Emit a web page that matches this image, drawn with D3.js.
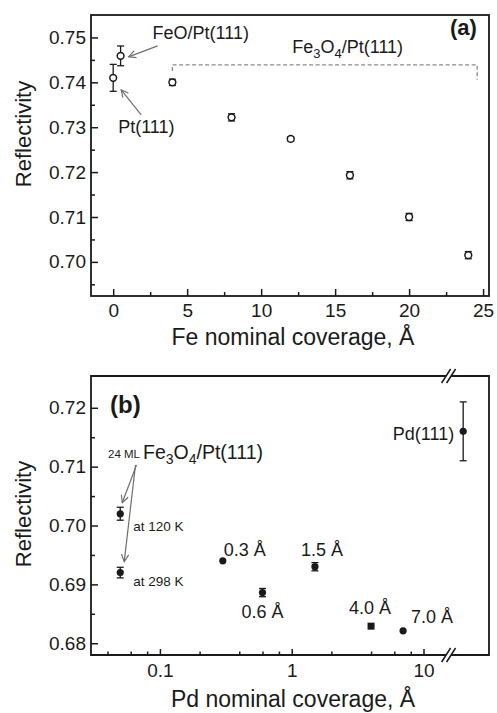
<!DOCTYPE html>
<html><head><meta charset="utf-8">
<script src="https://cdn.jsdelivr.net/npm/d3@7/dist/d3.min.js"></script>
<style>
html,body{margin:0;padding:0;background:#fff;}
svg{display:block;font-family:"Liberation Sans",Arial,sans-serif;}
</style></head>
<body>
<svg id="chart" width="497" height="713"></svg>
<script>
// ---------- Panel (a) data ----------
const feCoverage = [0, 0.5, 4, 8, 12, 16, 20, 24];
const feReflectivity = [0.741, 0.7459, 0.740, 0.7322, 0.7274, 0.7193, 0.710, 0.7015];
const feError = [0.003, 0.0022, 0.0007, 0.0008, 0.0005, 0.0008, 0.0008, 0.0008];
const aXTicks = [0, 5, 10, 15, 20, 25];
const aXMinor = [2.5, 7.5, 12.5, 17.5, 22.5];
const aYTicks = [0.70, 0.71, 0.72, 0.73, 0.74, 0.75];
const aYMinor = [0.695, 0.705, 0.715, 0.725, 0.735, 0.745];

// ---------- Panel (b) data ----------
const pdCoverage = [0.05, 0.05, 0.3, 0.6, 1.5, 4.0, 7.0, 20];
const pdReflectivity = [0.702, 0.692, 0.694, 0.6886, 0.693, 0.6829, 0.6821, 0.716];
const pdError = [0.0011, 0.0009, 0, 0.0007, 0.0007, 0, 0, 0.005];
const pdLabels = ["", "", "0.3 Å", "0.6 Å", "1.5 Å", "4.0 Å", "7.0 Å", "Pd(111)"];
const pdSquareCoverage = [4.0];
const bXTicks = [0.1, 1, 10];
const bXMinor = [0.04, 0.06, 0.08, 0.2, 0.4, 0.6, 0.8, 2, 4, 6, 8];
const bYTicks = [0.68, 0.69, 0.70, 0.71, 0.72];
const bYMinor = [0.685, 0.695, 0.705, 0.715];
const bBreak = 15.5;

const svg = d3.select("#chart");
const INK = "#1a1a1a", GRAY = "#6e6e6e";

// defs: arrowhead
svg.append("defs").append("marker")
  .attr("id","arr").attr("viewBox","0 0 10 10").attr("refX",9).attr("refY",5)
  .attr("markerWidth",9).attr("markerHeight",9).attr("orient","auto-start-reverse")
  .attr("markerUnits","userSpaceOnUse")
  .append("path").attr("d","M1,1 L9,5 L1,9").attr("fill","none").attr("stroke",GRAY).attr("stroke-width",1.3);

function styleAxis(g, fs){
  g.select(".domain").remove();
  g.selectAll(".tick line").attr("stroke",INK).attr("stroke-width",1.5);
  g.selectAll(".tick text").attr("fill",INK).attr("font-size",fs).attr("font-family","Liberation Sans, Arial, sans-serif");
}
function errorBars(g, xs, ys, errs, xS, yS){
  xs.forEach((x,i)=>{
    const e = errs[i]; if(!e) return;
    const cx = xS(x), y1 = yS(ys[i]+e), y2 = yS(ys[i]-e);
    g.append("line").attr("x1",cx).attr("x2",cx).attr("y1",y1).attr("y2",y2).attr("stroke",INK).attr("stroke-width",1.3);
    [y1,y2].forEach(yy=>g.append("line").attr("x1",cx-3.5).attr("x2",cx+3.5).attr("y1",yy).attr("y2",yy).attr("stroke",INK).attr("stroke-width",1.3));
  });
}
function arrow(g, x1,y1,x2,y2){
  g.append("line").attr("x1",x1).attr("y1",y1).attr("x2",x2).attr("y2",y2)
    .attr("stroke",GRAY).attr("stroke-width",1.2).attr("marker-end","url(#arr)");
}

// ================= Panel (a) =================
const xA = d3.scaleLinear().domain([-1.5, 25.4]).range([91, 489]);
const yA = d3.scaleLinear().domain([0.6924, 0.7550]).range([296, 15]);
const gA = svg.append("g");

gA.append("g").attr("transform","translate(0,296)")
  .call(d3.axisBottom(xA).tickValues(aXTicks).tickSizeInner(-7).tickSizeOuter(0).tickPadding(7.5).tickFormat(d3.format("d")))
  .call(g=>styleAxis(g,19));
gA.append("g").attr("transform","translate(0,296)")
  .call(d3.axisBottom(xA).tickValues(aXMinor).tickSizeInner(-4).tickSizeOuter(0).tickFormat(""))
  .call(g=>styleAxis(g,19));
gA.append("g").attr("transform","translate(91,0)")
  .call(d3.axisLeft(yA).tickValues(aYTicks).tickSizeInner(-7).tickSizeOuter(0).tickPadding(5).tickFormat(d3.format(".2f")))
  .call(g=>styleAxis(g,19));
gA.append("g").attr("transform","translate(91,0)")
  .call(d3.axisLeft(yA).tickValues(aYMinor).tickSizeInner(-4).tickSizeOuter(0).tickFormat(""))
  .call(g=>styleAxis(g,19));

gA.append("rect").attr("x",91).attr("y",15).attr("width",398).attr("height",281)
  .attr("fill","none").attr("stroke",INK).attr("stroke-width",1.8);

// dashed bracket for Fe3O4
gA.append("path")
  .attr("d", `M${xA(4)},${yA(0.7425)} V${yA(0.7439)} H${xA(24.6)} V${yA(0.7406)}`)
  .attr("fill","none").attr("stroke","#8a8a8a").attr("stroke-width",1.3).attr("stroke-dasharray","4,2.5");

errorBars(gA, feCoverage, feReflectivity, feError, xA, yA);
gA.selectAll("circle.pt").data(feCoverage).join("circle")
  .attr("cx",d=>xA(d)).attr("cy",(d,i)=>yA(feReflectivity[i])).attr("r",3.4)
  .attr("fill","#fff").attr("stroke",INK).attr("stroke-width",1.5);

// annotations (a)
const tA = (x,y,txt,fs,extra)=>{const t=gA.append("text").attr("x",x).attr("y",y).attr("fill",INK).attr("font-size",fs).text(txt); if(extra) extra(t); return t;};
const pFeO = [xA(feCoverage[1]), yA(feReflectivity[1])];
const pPt = [xA(feCoverage[0]), yA(feReflectivity[0])];
tA(pFeO[0]+32, pFeO[1]-17, "FeO/Pt(111)", 18);
arrow(gA, pFeO[0]+37, pFeO[1]-10, pFeO[0]+8, pFeO[1]+1);
tA(pPt[0]+5, pPt[1]+55, "Pt(111)", 18);
arrow(gA, pPt[0]+28, pPt[1]+37, pPt[0]+8, pPt[1]+12);
const fe3 = gA.append("text").attr("x",xA(12.1)).attr("y",53).attr("fill",INK).attr("font-size",18);
fe3.append("tspan").text("Fe");
fe3.append("tspan").attr("font-size",13).attr("dy",5).text("3");
fe3.append("tspan").attr("dy",-5).text("O");
fe3.append("tspan").attr("font-size",13).attr("dy",5).text("4");
fe3.append("tspan").attr("dy",-5).text("/Pt(111)");
tA(450, 35, "(a)", 22, t=>t.attr("font-weight","bold"));

gA.append("text").attr("x",293).attr("y",345).attr("text-anchor","middle").attr("font-size",23).attr("fill",INK).text("Fe nominal coverage, Å");
gA.append("text").attr("transform","translate(31,134) rotate(-90)").attr("text-anchor","middle").attr("font-size",22).attr("fill",INK).text("Reflectivity");

// ================= Panel (b) =================
const xB = d3.scaleLog().domain([0.03, 31.4]).range([91, 489]);
const yB = d3.scaleLinear().domain([0.678, 0.7254]).range([655, 376]);
const gB = svg.append("g");

gB.append("g").attr("transform","translate(0,655)")
  .call(d3.axisBottom(xB).tickValues(bXTicks).tickSizeInner(-6).tickSizeOuter(0).tickPadding(9).tickFormat(d=>String(d)))
  .call(g=>styleAxis(g,19));
gB.append("g").attr("transform","translate(0,655)")
  .call(d3.axisBottom(xB).tickValues(bXMinor).tickSizeInner(-3.5).tickSizeOuter(0).tickFormat(""))
  .call(g=>styleAxis(g,19));
gB.append("g").attr("transform","translate(91,0)")
  .call(d3.axisLeft(yB).tickValues(bYTicks).tickSizeInner(-7).tickSizeOuter(0).tickPadding(5).tickFormat(d3.format(".2f")))
  .call(g=>styleAxis(g,19));
gB.append("g").attr("transform","translate(91,0)")
  .call(d3.axisLeft(yB).tickValues(bYMinor).tickSizeInner(-4).tickSizeOuter(0).tickFormat(""))
  .call(g=>styleAxis(g,19));

// frame with axis breaks
const bx = xB(bBreak), L = 91, R = 489, T = 376, B = 655;
gB.append("path")
  .attr("d", `M${bx-2.5},${T} H${L} V${B} H${bx-2.5} M${bx+2.5},${B} H${R} V${T} H${bx+2.5}`)
  .attr("fill","none").attr("stroke",INK).attr("stroke-width",1.8);
[T,B].forEach(yy=>{
  [bx-2.5, bx+2.5].forEach(cx=>{
    gB.append("line").attr("x1",cx-4.5).attr("y1",yy+7).attr("x2",cx+4.5).attr("y2",yy-7)
      .attr("stroke",INK).attr("stroke-width",1.5);
  });
});

errorBars(gB, pdCoverage, pdReflectivity, pdError, xB, yB);
pdCoverage.forEach((x,i)=>{
  const cx = xB(x), cy = yB(pdReflectivity[i]);
  if (pdSquareCoverage.includes(x))
    gB.append("rect").attr("x",cx-3.5).attr("y",cy-3.5).attr("width",7).attr("height",7).attr("fill",INK);
  else
    gB.append("circle").attr("cx",cx).attr("cy",cy).attr("r",3.6).attr("fill",INK);
});

// point labels (b)
const labOff = {"0.3 Å":[1,-5,"start"], "0.6 Å":[0,25,"middle"], "1.5 Å":[7,-11,"middle"], "4.0 Å":[-1,-12,"middle"], "7.0 Å":[8,-8,"start"], "Pd(111)":[-9,9,"end"]};
pdLabels.forEach((lab,i)=>{
  if(!lab) return;
  const o = labOff[lab];
  gB.append("text").attr("x",xB(pdCoverage[i])+o[0]).attr("y",yB(pdReflectivity[i])+o[1])
    .attr("text-anchor",o[2]).attr("font-size",18).attr("fill",INK).text(lab);
});

// Fe3O4 reference annotation (b)
const p120 = [xB(pdCoverage[0]), yB(pdReflectivity[0])];
const p298 = [xB(pdCoverage[1]), yB(pdReflectivity[1])];
gB.append("text").attr("x",108).attr("y",458).attr("font-size",11.5).attr("fill",INK).text("24 ML");
const fe3b = gB.append("text").attr("x",143).attr("y",459).attr("fill",INK).attr("font-size",19.5);
fe3b.append("tspan").text("Fe");
fe3b.append("tspan").attr("font-size",14).attr("dy",5).text("3");
fe3b.append("tspan").attr("dy",-5).text("O");
fe3b.append("tspan").attr("font-size",14).attr("dy",5).text("4");
fe3b.append("tspan").attr("dy",-5).text("/Pt(111)");
gB.append("text").attr("x",p120[0]+13).attr("y",p120[1]+17).attr("font-size",13.5).attr("fill",INK).text("at 120 K");
gB.append("text").attr("x",p298[0]+13).attr("y",p298[1]+13).attr("font-size",13.5).attr("fill",INK).text("at 298 K");
arrow(gB, 136.5, 465, p120[0]+2, p120[1]-11);
arrow(gB, 135.5, 465, p298[0]+4, p298[1]-11);

tA(0,0,"",1).remove();
gB.append("text").attr("x",110).attr("y",413).attr("font-size",24).attr("font-weight","bold").attr("fill",INK).text("(b)");

gB.append("text").attr("x",293).attr("y",707).attr("text-anchor","middle").attr("font-size",23).attr("fill",INK).text("Pd nominal coverage, Å");
gB.append("text").attr("transform","translate(31,514) rotate(-90)").attr("text-anchor","middle").attr("font-size",22).attr("fill",INK).text("Reflectivity");
</script>
</body></html>
